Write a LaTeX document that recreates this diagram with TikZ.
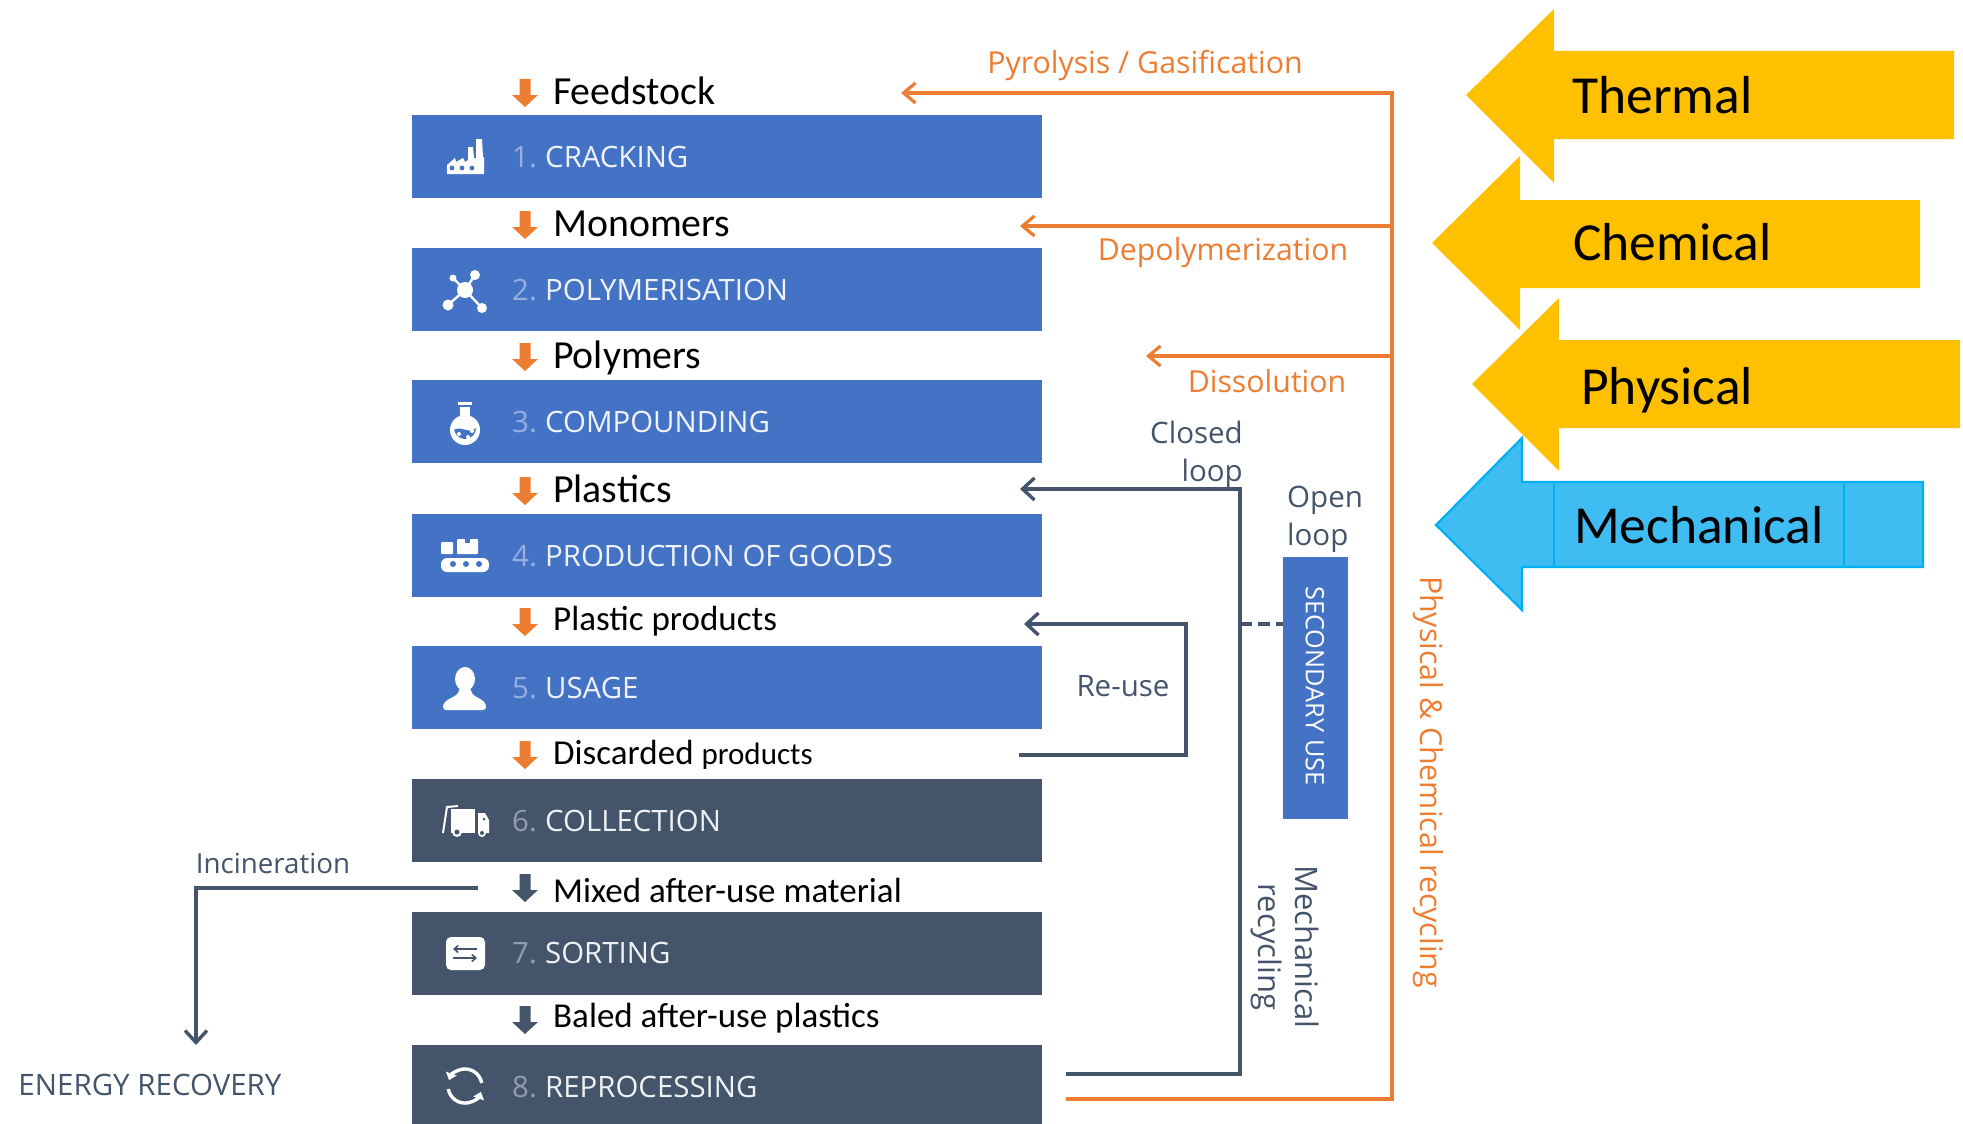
\documentclass[tikz,border=0pt]{standalone}
\usepackage{fontspec}
\setmainfont{Carlito}
\newfontfamily\segoe{Open Sans}
\usetikzlibrary{arrows.meta}
\definecolor{barblue}{HTML}{4472C4}
\definecolor{slate}{HTML}{44546A}
\definecolor{orng}{HTML}{ED7D31}
\definecolor{yel}{HTML}{FFC000}
\definecolor{skyf}{HTML}{3FBDF2}
\definecolor{skyl}{HTML}{00B0F0}
\definecolor{numblue}{HTML}{9DB5E2}
\definecolor{numslate}{HTML}{9AA5B3}
\newcommand{\fs}[1]{\fontsize{#1}{#1}\selectfont}
\tikzset{
  x=1pt,y=-1pt,
  bluebar/.style={fill=barblue,inner sep=0pt,anchor=north west,minimum width=630,minimum height=83},
  slatebar/.style={fill=slate,inner sep=0pt,anchor=north west,minimum width=630,minimum height=83},
  bartext/.style={anchor=west,inner sep=0pt,text=white,text opacity=0.92,font=\segoe\fs{29.4}},
  prod/.style={anchor=west,inner sep=0pt,text=black,font=\fs{#1}},
  prod/.default=39.8,
  olabel/.style={inner sep=0pt,text=orng,font=\segoe\fs{30.3}},
  dlabel/.style={inner sep=0pt,text=slate,font=\segoe\fs{29.5}},
  big/.style={anchor=west,inner sep=0pt,text=black,font=\fs{53.5}},
  oline/.style={draw=orng,line width=3.2,-{Straight Barb[length=12,width=20,line width=3.2]}},
  dline/.style={draw=slate,line width=3.4,-{Straight Barb[length=12,width=22,line width=3.4]}},
  dplain/.style={draw=slate,line width=3.4},
  darr/.pic={\fill[pic actions] (-5.5,0) -- (5.5,0) -- (5.5,16) -- (13,16) -- (0,28) -- (-13,16) -- (-5.5,16) -- cycle;},
}
\newcommand{\barnum}[2]{\makebox[33pt][l]{\textcolor{#1}{#2}}}
\begin{document}
\begin{tikzpicture}
\useasboundingbox (0,0) rectangle (1963,1124);
% big arrows
\fill[yel] (1466,95) -- (1554,9) -- (1554,51) -- (1954,51) -- (1954,139) -- (1554,139) -- (1554,183) -- cycle;
\fill[yel] (1432,243) -- (1520,156) -- (1520,200) -- (1920,200) -- (1920,288) -- (1520,288) -- (1520,330) -- cycle;
\fill[yel] (1472,384) -- (1559,298) -- (1559,340) -- (1960,340) -- (1960,428) -- (1559,428) -- (1559,471) -- cycle;
\filldraw[fill=skyf,draw=skyl,line width=2.2] (1436,525) -- (1522,438) -- (1522,482) -- (1923,482) -- (1923,567) -- (1522,567) -- (1522,610) -- cycle;
\draw[skyl,line width=1.4] (1554,482) -- (1554,567) (1844,482) -- (1844,567);
\node[big] (tThermal) at (1572,95) {Thermal};
\node[big] (tChemical) at (1573,242) {Chemical};
\node[big] (tPhysical) at (1581,390) {Physical};
\node[big] (tMech) at (1574,525) {Mechanical};
% bars
\node[bluebar] (b1) at (412,115) {};
\node[bluebar] (b2) at (412,248) {};
\node[bluebar] (b3) at (412,380) {};
\node[bluebar] (b4) at (412,514) {};
\node[bluebar] (b5) at (412,646) {};
\node[slatebar] (b6) at (412,779) {};
\node[slatebar] (b7) at (412,912) {};
\node[slatebar,minimum height=79] (b8) at (412,1045) {};
\node[bartext] (t1) at (512,157) {\barnum{numblue}{1.}CRACKING};
\node[bartext] (t2) at (512,290) {\barnum{numblue}{2.}POLYMERISATION};
\node[bartext] (t3) at (512,422) {\barnum{numblue}{3.}COMPOUNDING};
\node[bartext] (t4) at (512,556) {\barnum{numblue}{4.}PRODUCTION OF GOODS};
\node[bartext] (t5) at (512,688) {\barnum{numblue}{5.}USAGE};
\node[bartext] (t6) at (512,821) {\barnum{numslate}{6.}COLLECTION};
\node[bartext] (t7) at (512,953) {\barnum{numslate}{7.}SORTING};
\node[bartext] (t8) at (512,1087) {\barnum{numslate}{8.}REPROCESSING};
% product arrows
\foreach \y in {79,211,343,477,608,741} \pic[fill=orng] at (525,\y) {darr};
\foreach \y in {874,1006} \pic[fill=slate] at (525,\y) {darr};
% product labels
\node[prod] (p1) at (553,91) {Feedstock};
\node[prod] (p2) at (553,224) {Monomers};
\node[prod] (p3) at (553,358) {Polymers};
\node[prod] (p4) at (553,489) {Plastics};
\node[prod=35] (p5) at (553,621) {Plastic products};
\node[prod=35] (p6) at (553,755) {Discarded {\fs{31}products}};
\node[prod=35] (p7) at (553,890) {Mixed after-use material};
\node[prod=35] (p8) at (553,1018) {Baled after-use plastics};
% secondary use
\node[fill=barblue,inner sep=0pt,anchor=north west,minimum width=65,minimum height=262] (sec) at (1283,557) {};
\node[rotate=-90,inner sep=0pt,text=white,font=\segoe\fs{25.3}] (sect) at (1315,686) {SECONDARY USE};
% coordinates
\coordinate (oTop) at (1392,93);
\coordinate (oDep) at (1392,226);
\coordinate (oDis) at (1392,356);
\coordinate (oBot) at (1392,1099);
\coordinate (oStart) at (1066,1099);
\coordinate (aPyr) at (901,93);
\coordinate (aDep) at (1020,226);
\coordinate (aDis) at (1146,356);
\coordinate (cStart) at (1066,1074);
\coordinate (cBot) at (1240,1074);
\coordinate (cTop) at (1240,489);
\coordinate (aClosed) at (1020,489);
\coordinate (cDash) at (1240,624);
\coordinate (secW) at (1283,624);
\coordinate (rStart) at (1019,755);
\coordinate (rBot) at (1186,755);
\coordinate (rTop) at (1186,624);
\coordinate (aReuse) at (1024,624);
\coordinate (iStart) at (478,888);
\coordinate (iCorner) at (196,888);
\coordinate (aInc) at (196,1045);
% orange connectors
\draw[oline] (oStart) -- (oBot) -- (oTop) -- (aPyr);
\draw[oline] (oDep) -- (aDep);
\draw[oline] (oDis) -- (aDis);
% dark connectors
\draw[dline] (cStart) -- (cBot) -- (cTop) -- (aClosed);
\draw[dplain,dash pattern=on 12 off 6] (cDash) -- (secW);
\draw[dline] (rStart) -- (rBot) -- (rTop) -- (aReuse);
\draw[dline] (iStart) -- (iCorner) -- (aInc);
% labels
\node[olabel] (l1) at (1145,66) {Pyrolysis / Gasification};
\node[olabel] (l2) at (1223,253) {Depolymerization};
\node[olabel] (l3) at (1267,381) {Dissolution};
\node[olabel,rotate=-90] (l4) at (1428,782) {Physical \& Chemical recycling};
\node[dlabel,align=right,anchor=north east] (l5) at (1243,421) {Closed\\[8pt]loop};
\node[dlabel,align=left,anchor=north west] (l6) at (1287,486) {Open\\[8pt]loop};
\node[dlabel] (l7) at (1123,686) {Re-use};
\node[dlabel,font=\segoe\fs{27.7}] (l8) at (273,863) {Incineration};
\node[dlabel] (l9) at (150,1085) {ENERGY RECOVERY};
\node[dlabel,rotate=-90,font=\segoe\fs{31}] (l10) at (1307,947) {Mechanical};
\node[dlabel,rotate=-90,font=\segoe\fs{31}] (l11) at (1267,947) {recycling};
% icon 1 factory
\fill[white] (447,174) -- (447,165) -- (455,158) -- (456,162) -- (463,158) -- (465,162) -- (468,160) -- (468,147) -- (473,147) -- (474,158) -- (476,158) -- (476,139) -- (482,139) -- (483,157) -- (484,157) -- (484,174) -- cycle;
\fill[barblue] (452,168) circle (2.4) (462,168) circle (2.4) (472,168) circle (2.4);
% icon 2 molecule
\begin{scope}[white]
\draw[line width=2.4] (465,290) -- (475,275) (465,290) -- (453,278) (465,290) -- (448,305) (465,290) -- (482,308);
\fill (465,290) circle (8) (475,275) circle (5) (453,278) circle (3.5) (448,305) circle (5.5) (482,308) circle (5);
\end{scope}
% icon 3 flask
\begin{scope}[white]
\fill (458,402) rectangle (472,405);
\fill (460,407) rectangle (470,418);
\fill (465,430) circle (15);
\fill[barblue] (454,430) .. controls (461,425) and (469,435) .. (476,428) arc (0:180:11) -- cycle;
\fill[white] (459,434) circle (2) (468,437) circle (2) (472,431) circle (2);
\end{scope}
% icon 4 conveyor
\begin{scope}[white]
\fill[rounded corners=6] (441,558) rectangle (489,572);
\fill[barblue] (453,564) circle (3) (466,564) circle (3) (479,564) circle (3);
\fill[rounded corners=1] (441,542) rectangle (453,554);
\fill[rounded corners=1] (457,539) rectangle (478,554);
\fill[barblue] (465,539) rectangle (470,543);
\end{scope}
% icon 5 person
\begin{scope}[white]
\fill (465,679) ellipse (10 and 12);
\fill[rounded corners=3] (443,710) .. controls (443,698) and (458,698) .. (459,688) -- (471,688) .. controls (472,698) and (486,698) .. (486,710) -- cycle;
\end{scope}
% icon 6 truck
\begin{scope}[white]
\draw[line width=2] (443,833) -- (447,807) -- (458,806);
\fill (451,809) -- (475,809) -- (475,833) -- (451,833) -- cycle;
\fill (478,813) -- (485,813) -- (489,820) -- (489,833) -- (478,833) -- cycle;
\fill[slate] (484,819) circle (1.5);
\fill (457,832) circle (5); \fill[slate] (457,832) circle (2.5);
\fill (482,833) circle (4); \fill[slate] (482,833) circle (2);
\end{scope}
% icon 7 sorting
\fill[white,rounded corners=5] (446,937) rectangle (485,970);
\draw[slate,line width=1.6,-{Straight Barb[length=4,width=7]}] (477,949) -- (453,949);
\draw[slate,line width=1.6,-{Straight Barb[length=4,width=7]}] (453,958) -- (477,958);
% icon 8 reprocess
\begin{scope}[white,line width=3.4]
\draw[-{Triangle[length=7,width=11]}] (481.7,1083) arc (-10:-160:17);
\draw[-{Triangle[length=7,width=11]}] (448.3,1089) arc (-190:-340:17);
\end{scope}
\end{tikzpicture}
\end{document}
